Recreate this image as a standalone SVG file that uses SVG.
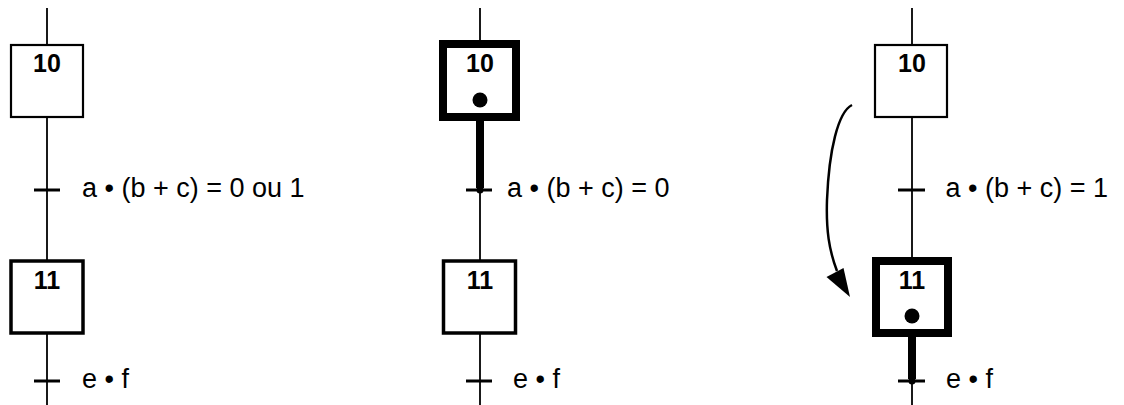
<svg xmlns="http://www.w3.org/2000/svg" width="1124" height="405" viewBox="0 0 1124 405">
<style>
.bg{fill:#fff}
.link{stroke:#000;stroke-width:1.8;fill:none}
.active{stroke:#000;stroke-width:8;fill:none}
.tick{stroke:#000;stroke-width:3;fill:none}
.step{fill:#fff;stroke:#000}
.thin{stroke-width:2.2}
.mid{stroke-width:3.5}
.thick{stroke-width:8}
.num{font-family:"Liberation Sans",Arial,sans-serif;font-weight:bold;font-size:25px;text-anchor:middle;fill:#000}
.cond{font-family:"Liberation Sans",Arial,sans-serif;font-size:27px;fill:#000}
.tok{fill:#000}
.arrow{stroke:#000;stroke-width:2.5;fill:none}
</style>
<rect class="bg" x="0" y="0" width="1124" height="405"/>
<g id="connectors">
  <line class="link" x1="47" y1="8" x2="47" y2="405"/>
  <line class="link" x1="480" y1="8" x2="480" y2="405"/>
  <line class="link" x1="912" y1="8" x2="912" y2="405"/>
  <line class="active" x1="480" y1="117" x2="480" y2="188"/>
  <circle class="tok" cx="480" cy="190" r="3.5"/>
  <line class="active" x1="912" y1="333" x2="912" y2="379"/>
  <circle class="tok" cx="912" cy="381" r="3.5"/>
  <path class="arrow" d="M 852 105 C 838 112, 829 150, 827 200 C 826 230, 829 250, 837 271"/>
  <polygon class="tok" points="850,297 826.5,277 843.5,268"/>
</g>
<g id="transition-left-1">
  <line class="tick" x1="34" y1="190" x2="60" y2="190"/>
  <text class="cond" x="82" y="197">a • (b + c) = 0 ou 1</text>
</g>
<g id="transition-left-2">
  <line class="tick" x1="34" y1="381" x2="60" y2="381"/>
  <text class="cond" x="82" y="388">e • f</text>
</g>
<g id="transition-mid-1">
  <line class="tick" x1="466" y1="190" x2="492" y2="190"/>
  <text class="cond" x="507" y="197">a • (b + c) = 0</text>
</g>
<g id="transition-mid-2">
  <line class="tick" x1="466" y1="381" x2="492" y2="381"/>
  <text class="cond" x="513" y="388">e • f</text>
</g>
<g id="transition-right-1">
  <line class="tick" x1="898" y1="190" x2="925" y2="190"/>
  <text class="cond" x="945.5" y="197">a • (b + c) = 1</text>
</g>
<g id="transition-right-2">
  <line class="tick" x1="898" y1="381" x2="925" y2="381"/>
  <text class="cond" x="946" y="388">e • f</text>
</g>
<g id="step-left-10">
  <rect class="step thin" x="11" y="45" width="72" height="72"/>
  <text class="num" x="47" y="72">10</text>
</g>
<g id="step-left-11">
  <rect class="step mid" x="11" y="261" width="72" height="72"/>
  <text class="num" x="47" y="289">11</text>
</g>
<g id="step-mid-10">
  <rect class="step thick" x="443" y="44" width="73" height="73"/>
  <text class="num" x="480" y="72">10</text>
  <circle class="tok" cx="480" cy="100" r="7.5"/>
</g>
<g id="step-mid-11">
  <rect class="step mid" x="443.5" y="261" width="72" height="72"/>
  <text class="num" x="480" y="289">11</text>
</g>
<g id="step-right-10">
  <rect class="step thin" x="875" y="45" width="72" height="72"/>
  <text class="num" x="912" y="72">10</text>
</g>
<g id="step-right-11">
  <rect class="step thick" x="876" y="261" width="72" height="72"/>
  <text class="num" x="912" y="289">11</text>
  <circle class="tok" cx="912" cy="316" r="7.5"/>
</g>
</svg>
